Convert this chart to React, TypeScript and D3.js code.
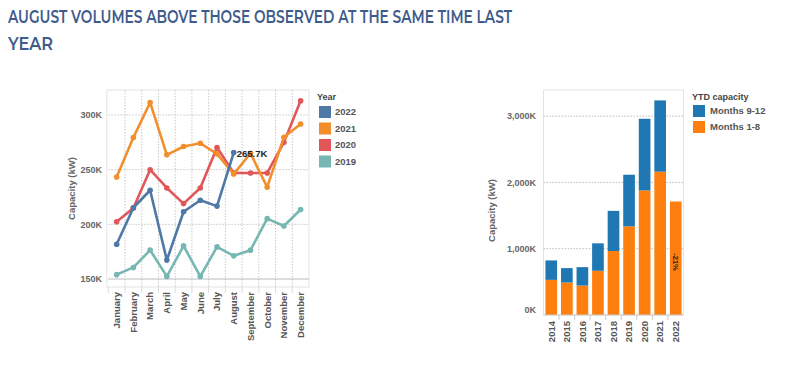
import React from "react";
import * as d3 from "d3";

const months = ["January","February","March","April","May","June","July","August","September","October","November","December"];
const years = ["2022","2021","2020","2019"];
const yearColors = ["#4e79a7","#f28e2b","#e15759","#76b7b2"];
const v2022 = [181.8,215.2,231.2,167.3,211.5,222.1,216.7,265.7];
const v2021 = [243.3,279.4,311.5,263.6,271.2,274.2,264.5,246.0,265.0,234.0,279.7,291.8];
const v2020 = [202.4,215.0,250.0,233.3,219.0,233.3,270.3,247.0,247.0,247.0,275.0,313.0];
const v2019 = [154.0,160.6,176.4,152.4,180.3,152.4,179.4,171.2,176.4,205.2,198.5,213.6];
const lineTicks = [150,200,250,300];

const barYears = ["2014","2015","2016","2017","2018","2019","2020","2021","2022"];
const months18 = [530,490,444,667,965,1338,1879,2162,1712];
const months912 = [293,217,278,414,606,778,1081,1075,0];
const barTicks = [0,1000,2000,3000];
const barLabels = ["Months 9-12","Months 1-8"];
const barColors = ["#1f77b4","#ff7f0e"];

const FONT = "'Liberation Sans', Arial, sans-serif";

export default function App() {
  // line chart
  const lx0 = 108.3, lx1 = 309, ly0 = 90, ly1 = 287;
  const x = d3.scaleBand<string>().domain(months).range([lx0, lx1]);
  const y = d3.scaleLinear().domain([142.7, 322.9]).range([ly1, ly0]);
  const series = [v2022, v2021, v2020, v2019];
  const line = d3.line<number>().x((_, i) => (x(months[i]) as number) + x.bandwidth() / 2).y(d => y(d));
  const drawOrder = [3, 2, 1, 0];

  // bar chart
  const bx0 = 543.5, bx1 = 683.5, by0 = 90, by1 = 315;
  const bx = d3.scaleBand<string>().domain(barYears).range([bx0, bx1]).paddingInner(0.25).paddingOuter(0.125);
  const by = d3.scaleLinear().domain([0, 3394]).range([by1, by0]);
  const stackData = barYears.map((yr, i) => ({ yr, a: months18[i], b: months912[i] }));
  const stacked = d3.stack<any>().keys(["a", "b"])(stackData);

  const augIdx = 7;
  const augX = (x(months[augIdx]) as number) + x.bandwidth() / 2;

  return (
    <svg width={800} height={378} style={{ position: "absolute", left: 0, top: 0, background: "#fff" }} fontFamily={FONT}>
      <text x={8} y={23} fontFamily="Montserrat, 'Open Sans', sans-serif" fontSize={19} fontWeight={600} fill="#3e5b8b" textLength={504} lengthAdjust="spacingAndGlyphs">AUGUST VOLUMES ABOVE THOSE OBSERVED AT THE SAME TIME LAST</text>
      <text x={8} y={50} fontFamily="Montserrat, 'Open Sans', sans-serif" fontSize={19} fontWeight={600} fill="#3e5b8b" textLength={45} lengthAdjust="spacingAndGlyphs">YEAR</text>

      {/* line chart frame & grid */}
      <rect x={lx0 - 1.5} y={ly0} width={lx1 - lx0 + 1.5} height={ly1 - ly0} fill="none" stroke="#e4e4e4" />
      {months.map((m, i) => i > 0 ? (
        <line key={m} x1={x(m) as number} x2={x(m) as number} y1={ly0} y2={ly1} stroke="#c8c8c8" strokeDasharray="1.5,1.5" />
      ) : null)}
      {months.map((m, i) => (
        <line key={"t" + m} x1={(x(m) as number)} x2={(x(m) as number)} y1={ly1} y2={ly1 + 6} stroke="#dcdcdc" />
      ))}
      {lineTicks.map(t => (
        <g key={t}>
          <line x1={lx0} x2={lx1} y1={y(t)} y2={y(t)} stroke={t === 150 ? "#bbb" : "#c8c8c8"} strokeDasharray={t === 150 ? undefined : "1.5,1.5"} />
          <text x={102} y={y(t)} dy="0.35em" textAnchor="end" fontSize={9} fontWeight="bold" fill="#666">{t}K</text>
        </g>
      ))}
      <text transform={`translate(75,${(ly0 + ly1) / 2 + 0}) rotate(-90)`} textAnchor="middle" fontSize={9.5} fontWeight="bold" fill="#666">Capacity (kW)</text>
      {months.map(m => (
        <text key={"l" + m} transform={`translate(${(x(m) as number) + x.bandwidth() / 2},292) rotate(-90)`} textAnchor="end" dy="0.35em" fontSize={9.5} fontWeight="bold" fill="#555">{m}</text>
      ))}
      {drawOrder.map(si => (
        <g key={years[si]}>
          <path d={line(series[si]) as string} fill="none" stroke={yearColors[si]} strokeWidth={2.6} strokeLinejoin="round" />
          {series[si].map((v, i) => (
            <circle key={i} cx={(x(months[i]) as number) + x.bandwidth() / 2} cy={y(v)} r={2.8} fill={yearColors[si]} />
          ))}
        </g>
      ))}
      <text x={augX + 3} y={y(v2022[augIdx]) + 1} dy="0.35em" fontSize={9.5} fontWeight="bold" fill="#222">265.7K</text>

      {/* line legend */}
      <text x={317} y={100} fontSize={9} fontWeight="bold" fill="#444">Year</text>
      {years.map((yr, i) => (
        <g key={"lg" + yr}>
          <rect x={319} y={106 + i * 16.5} width={12} height={12} fill={yearColors[i]} />
          <text x={335} y={112 + i * 16.5} dy="0.35em" fontSize={9.5} fontWeight="bold" fill="#555">{yr}</text>
        </g>
      ))}

      {/* bar chart */}
      <rect x={bx0} y={by0} width={bx1 - bx0} height={by1 - by0} fill="none" stroke="#e4e4e4" />
      {barTicks.map(t => (
        <g key={"bt" + t}>
          {t > 0 && <line x1={bx0} x2={bx1} y1={by(t)} y2={by(t)} stroke="#bbb" strokeDasharray="1.5,1.5" />}
          <text x={536} y={t === 0 ? by(t) - 5 : by(t)} dy="0.35em" textAnchor="end" fontSize={9} fontWeight="bold" fill="#666">{d3.format(",")(t)}K</text>
        </g>
      ))}
      <text transform={`translate(495,${(by0 + by1) / 2 + 8}) rotate(-90)`} textAnchor="middle" fontSize={9.5} fontWeight="bold" fill="#666">Capacity (kW)</text>
      {stacked.map((s, si) => (
        <g key={"s" + si} fill={barColors[1 - si]}>
          {s.map((d, i) => d[1] > d[0] ? (
            <rect key={i} x={bx(barYears[i]) as number} width={bx.bandwidth()} y={by(d[1])} height={by(d[0]) - by(d[1])} />
          ) : null)}
        </g>
      ))}
      <line x1={bx0} x2={bx1} y1={by1} y2={by1} stroke="#ccc" />
      {barYears.map((yr, i) => (
        <g key={"bl" + yr}>
          {i > 0 && <line x1={(bx(yr) as number) - bx.step() * 0.125} x2={(bx(yr) as number) - bx.step() * 0.125} y1={by1} y2={by1 + 5} stroke="#ccc" />}
          <text transform={`translate(${(bx(yr) as number) + bx.bandwidth() / 2},321) rotate(-90)`} textAnchor="end" dy="0.35em" fontSize={9.5} fontWeight="bold" fill="#555">{yr}</text>
        </g>
      ))}
      <text transform={`translate(${(bx("2022") as number) + bx.bandwidth() / 2},262) rotate(90)`} textAnchor="middle" dy="0.35em" fontSize={7.5} fontWeight="bold" fill="#222">-21%</text>

      {/* bar legend */}
      <text x={692} y={100} fontSize={9} fontWeight="bold" fill="#444">YTD capacity</text>
      {barLabels.map((lb, i) => (
        <g key={lb}>
          <rect x={693} y={105 + i * 16} width={12} height={12} fill={barColors[i]} />
          <text x={710} y={111 + i * 16} dy="0.35em" fontSize={9.5} fontWeight="bold" fill="#555">{lb}</text>
        </g>
      ))}
    </svg>
  );
}
